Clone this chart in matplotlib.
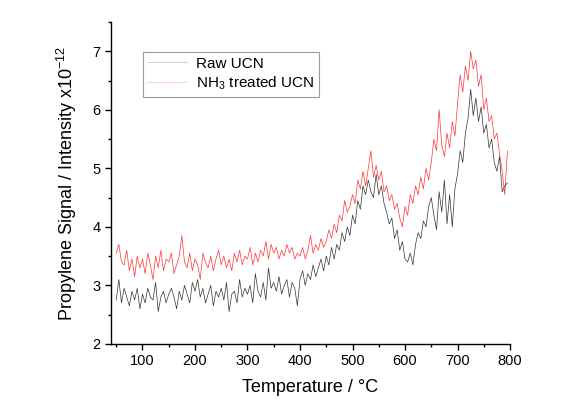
import numpy as np
import matplotlib
matplotlib.use("Agg")
import matplotlib.pyplot as plt
from matplotlib.ticker import MultipleLocator

plt.rcParams['font.family'] = ['Liberation Sans', 'DejaVu Sans']
plt.rcParams['mathtext.fontset'] = 'custom'
plt.rcParams['mathtext.rm'] = 'Liberation Sans'
plt.rcParams['axes.unicode_minus'] = False

# temperature grid (deg C), 5 degree steps
temperature = np.arange(50, 800, 5)

raw_ucn = [
    2.75, 3.10, 2.70, 2.95, 2.80, 2.65, 2.90, 2.75, 2.95, 2.60,
    2.85, 2.70, 2.95, 2.80, 2.75, 3.05, 2.55, 2.80, 2.90, 2.70,
    2.85, 2.95, 2.80, 2.60, 2.90, 2.75, 3.00, 2.85, 2.70, 3.05,
    2.90, 3.10, 2.80, 2.95, 2.70, 2.85, 3.00, 2.65, 2.90, 2.80,
    2.95, 2.75, 3.05, 2.55, 2.85, 2.90, 2.70, 3.10, 2.80, 2.95,
    2.85, 3.00, 2.70, 3.20, 2.90, 2.80, 3.05, 2.75, 3.30, 2.95,
    3.05, 2.90, 3.15, 2.85, 3.00, 3.10, 2.80, 3.05, 2.95, 2.65,
    3.10, 3.25, 3.00, 3.20, 3.10, 3.35, 3.15, 3.30, 3.45, 3.25,
    3.50, 3.35, 3.65, 3.45, 3.70, 3.60, 3.90, 3.75, 4.00, 3.85,
    4.20, 4.05, 4.45, 4.30, 4.70, 4.55, 4.80, 4.60, 4.50, 4.90,
    4.55, 4.70, 4.40, 4.25, 4.05, 4.15, 3.80, 3.95, 3.60, 3.75,
    3.45, 3.40, 3.55, 3.35, 3.70, 3.90, 3.80, 4.10, 4.00, 4.35,
    4.50, 4.20, 3.95, 4.60, 4.25, 4.80, 4.05, 4.55, 4.00, 4.65,
    4.90, 5.30, 5.10, 5.60, 5.85, 6.35, 5.90, 6.20, 5.80, 6.05,
    5.60, 5.75, 5.35, 5.50, 5.10, 4.95, 5.20, 4.60, 4.70, 4.75,
]

nh3_ucn = [
    3.55, 3.70, 3.40, 3.35, 3.60, 3.25, 3.45, 3.15, 3.50, 3.30,
    3.45, 3.20, 3.55, 3.35, 3.10, 3.50, 3.30, 3.60, 3.25, 3.45,
    3.40, 3.55, 3.20, 3.35, 3.50, 3.85, 3.40, 3.30, 3.55, 3.25,
    3.45, 3.35, 3.10, 3.55, 3.40, 3.30, 3.50, 3.25, 3.45, 3.60,
    3.35, 3.50, 3.30, 3.45, 3.25, 3.55, 3.40, 3.60, 3.35, 3.50,
    3.45, 3.65, 3.35, 3.55, 3.40, 3.60, 3.50, 3.75, 3.45, 3.70,
    3.55, 3.65, 3.45, 3.60, 3.50, 3.70, 3.55, 3.65, 3.45, 3.55,
    3.50, 3.65, 3.45, 3.60, 3.85, 3.55, 3.70, 3.60, 3.80, 3.65,
    3.75, 3.95, 3.80, 4.05, 3.90, 4.20, 4.10, 4.45, 4.25, 4.35,
    4.55, 4.40, 4.80, 4.65, 4.95, 4.70, 5.00, 5.30, 4.85, 5.05,
    4.80, 4.95, 4.60, 4.70, 4.45, 4.55, 4.30, 4.40, 4.15, 4.00,
    4.35, 4.20, 4.55, 4.40, 4.70, 4.55, 4.85, 4.65, 5.00, 4.80,
    5.10, 5.50, 5.30, 6.00, 5.40, 5.20, 5.60, 5.35, 5.80, 5.55,
    6.10, 6.60, 6.30, 6.75, 6.50, 7.00, 6.70, 6.85, 6.40, 6.60,
    6.00, 6.20, 5.80, 5.90, 5.50, 5.60, 5.25, 4.95, 4.55, 5.30,
]

fig = plt.figure(figsize=(5.75, 4.07), dpi=100)
ax = fig.add_axes([0.193, 0.155, 0.694, 0.791])

ax.plot(temperature, raw_ucn, color="black", lw=0.5, alpha=0.8, label="Raw UCN")
ax.plot(temperature, nh3_ucn, color="red", lw=0.5, alpha=0.8, label="NH$_3$ treated UCN")

ax.set_xlim(40, 800)
ax.set_ylim(2, 7.5)
ax.xaxis.set_major_locator(MultipleLocator(100))
ax.xaxis.set_minor_locator(MultipleLocator(50))
ax.yaxis.set_major_locator(MultipleLocator(1))
ax.yaxis.set_minor_locator(MultipleLocator(0.5))
ax.set_xticks(range(100, 801, 100))

for side in ["top", "right"]:
    ax.spines[side].set_visible(False)
for side in ["left", "bottom"]:
    ax.spines[side].set_linewidth(1.0)

ax.tick_params(which="major", direction="out", length=4, width=1, labelsize=10.5)
ax.tick_params(which="minor", direction="out", length=2.5, width=1)

ax.set_xlabel("Temperature / \u00b0C", fontsize=13, labelpad=8)
ax.set_ylabel("Propylene Signal / Intensity x10$^{-12}$", fontsize=13, labelpad=10)

leg = ax.legend(loc="upper left", bbox_to_anchor=(0.06, 0.93), fontsize=11,
                frameon=True, fancybox=False, edgecolor="gray", handlelength=2.6,
                borderpad=0.3, labelspacing=0.25, handletextpad=0.6)
leg.get_frame().set_linewidth(0.8)
for line in leg.get_lines():
    line.set_alpha(0.25)

fig.savefig("out.png", dpi=100)
